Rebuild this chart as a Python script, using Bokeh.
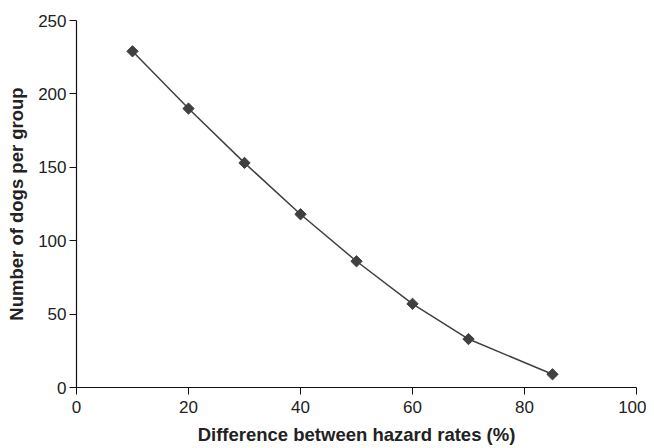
from bokeh.plotting import figure
from bokeh.models import Range1d, FixedTicker
from bokeh.embed import file_html
from bokeh.resources import INLINE

hazard_diff = [10, 20, 30, 40, 50, 60, 70, 85]
dogs_per_group = [229, 190, 153, 118, 86, 57, 33, 9]
x_ticks = [0, 20, 40, 60, 80, 100]
y_ticks = [0, 50, 100, 150, 200, 250]

p = figure(width=646, height=440, output_backend="svg", toolbar_location=None,
           x_range=Range1d(0, 100), y_range=Range1d(0, 250),
           frame_width=560, frame_height=367,
           min_border_left=76, min_border_top=20, min_border_right=10, min_border_bottom=53)
p.outline_line_color = None
p.xgrid.visible = False
p.ygrid.visible = False

p.line(hazard_diff, dogs_per_group, line_color="#404040", line_width=1.5)
p.scatter(hazard_diff, dogs_per_group, marker="square", angle=0.785398, size=8,
          fill_color="#404040", line_color="#404040")

for ax in (p.xaxis[0], p.yaxis[0]):
    ax.axis_line_color = "#111111"
    ax.axis_line_width = 1.2
    ax.major_tick_line_color = "#111111"
    ax.major_tick_out = 7
    ax.major_tick_in = 0
    ax.minor_tick_line_color = None
    ax.major_label_text_font = "Liberation Sans"
    ax.major_label_text_font_size = "17px"
    ax.major_label_text_color = "#222222"
    ax.axis_label_text_font = "Liberation Sans"
    ax.axis_label_text_font_style = "bold"
    ax.axis_label_text_font_size = "18.5px"
    ax.axis_label_text_color = "#222222"

p.xaxis.ticker = FixedTicker(ticks=x_ticks)
p.yaxis.ticker = FixedTicker(ticks=y_ticks)
p.xaxis.axis_label = "Difference between hazard rates (%)"
p.yaxis.axis_label = "Number of dogs per group"
p.xaxis.axis_label_standoff = 8
p.yaxis.axis_label_standoff = 8
p.xaxis.major_label_standoff = 6
p.yaxis.major_label_standoff = 3

open("out.html", "w").write(file_html(p, INLINE))
